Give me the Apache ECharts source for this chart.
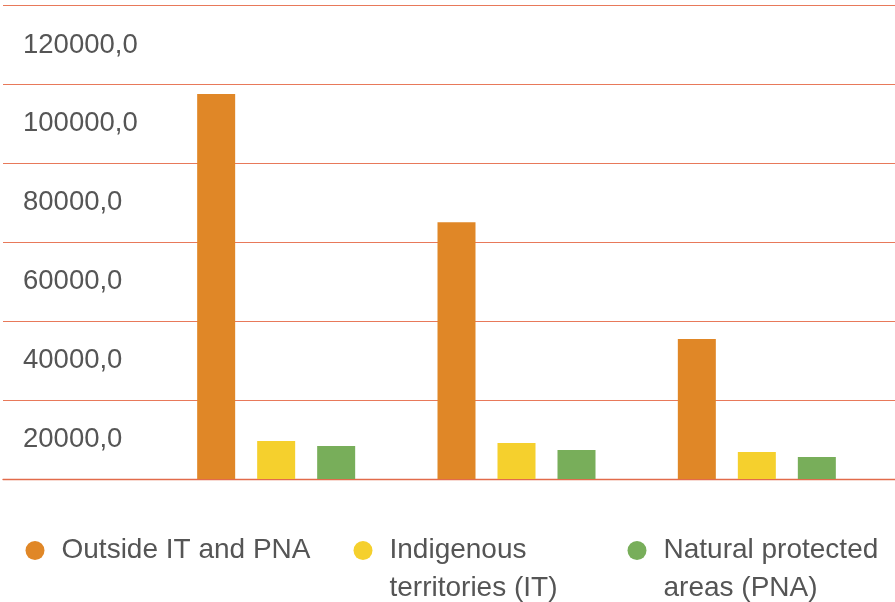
<!DOCTYPE html>
<html>
<head>
<meta charset="utf-8">
<script src="https://cdn.jsdelivr.net/npm/echarts@6/dist/echarts.min.js"></script>
<style>html,body{margin:0;padding:0;background:#fff;}#c{width:895px;height:602px;}</style>
</head>
<body>
<div id="c"></div>
<script>
var categories = ['Group 1', 'Group 2', 'Group 3'];
var seriesNames = ['Outside IT and PNA', 'Indigenous\nterritories (IT)', 'Natural protected\nareas (PNA)'];
var outsideValues = [97600, 65100, 35500];
var indigenousValues = [9600, 9100, 6850];
var protectedValues = [8350, 7350, 5600];
var yTicks = [0, 20000, 40000, 60000, 80000, 100000, 120000];
var colors = ['#E08727', '#F5D02D', '#78AE5A'];

var chart = echarts.init(document.getElementById('c'));
var font = '"Liberation Sans", Arial, Helvetica, sans-serif';
var textColor = '#555555';
var yMin = yTicks[0], yMax = yTicks[yTicks.length - 1], yStep = yTicks[1] - yTicks[0];
var gridTop = 5.5, gridBottom = 123;
var LH = 38;
var legendY = 550.5;

function legendFor(i, left, top) {
  return {
    data: [seriesNames[i]],
    left: left, top: top, padding: 0,
    orient: 'horizontal',
    icon: 'circle', itemWidth: 19, itemHeight: 19,
    selectedMode: false,
    formatter: function (name) { return name.indexOf('\n') >= 0 ? ' \n' + name : name; },
    textStyle: { fontFamily: font, fontSize: 28, color: textColor, lineHeight: LH,
                 padding: [0, 0, 0, 12] }
  };
}

chart.setOption({
  animation: false,
  backgroundColor: '#ffffff',
  color: colors,
  grid: [
    { left: 3, right: 0, top: gridTop, bottom: gridBottom, outerBoundsMode: 'none', containLabel: false },
    { left: 156, right: 18, top: gridTop, bottom: gridBottom, outerBoundsMode: 'none', containLabel: false }
  ],
  legend: [
    legendFor(0, 25.5, legendY - LH / 2),
    legendFor(1, 353.5, legendY - 1.5 * LH),
    legendFor(2, 627.5, legendY - 1.5 * LH)
  ],
  xAxis: [
    { gridIndex: 0, type: 'value', min: 0, max: 1, axisLabel: { show: false }, axisTick: { show: false },
      splitLine: { show: false }, axisLine: { show: true, lineStyle: { color: '#E26B4B', width: 1.3 } } },
    { gridIndex: 1, type: 'category', data: categories, axisLabel: { show: false }, axisTick: { show: false },
      axisLine: { show: false } }
  ],
  yAxis: [
    { gridIndex: 0, type: 'value', min: yMin, max: yMax, interval: yStep, axisLabel: { show: false },
      axisLine: { show: false }, axisTick: { show: false },
      splitLine: { show: true, lineStyle: { color: '#E8795A', width: 1.2 } } },
    { gridIndex: 1, type: 'value', min: yMin, max: yMax, interval: yStep,
      axisLine: { show: false }, axisTick: { show: false }, splitLine: { show: false },
      axisLabel: { show: true, showMinLabel: false, showMaxLabel: true, align: 'left', margin: 133,
        verticalAlign: 'top', lineHeight: 79,
        fontFamily: font, fontSize: 27.5, color: textColor,
        formatter: function (v) { return v + ',0'; } } }
  ],
  series: [
    { name: seriesNames[0], type: 'bar', xAxisIndex: 1, yAxisIndex: 1, data: outsideValues, barWidth: 38, barGap: '57.9%' },
    { name: seriesNames[1], type: 'bar', xAxisIndex: 1, yAxisIndex: 1, data: indigenousValues, barWidth: 38, barGap: '57.9%' },
    { name: seriesNames[2], type: 'bar', xAxisIndex: 1, yAxisIndex: 1, data: protectedValues, barWidth: 38, barGap: '57.9%' }
  ]
});
</script>
</body>
</html>
